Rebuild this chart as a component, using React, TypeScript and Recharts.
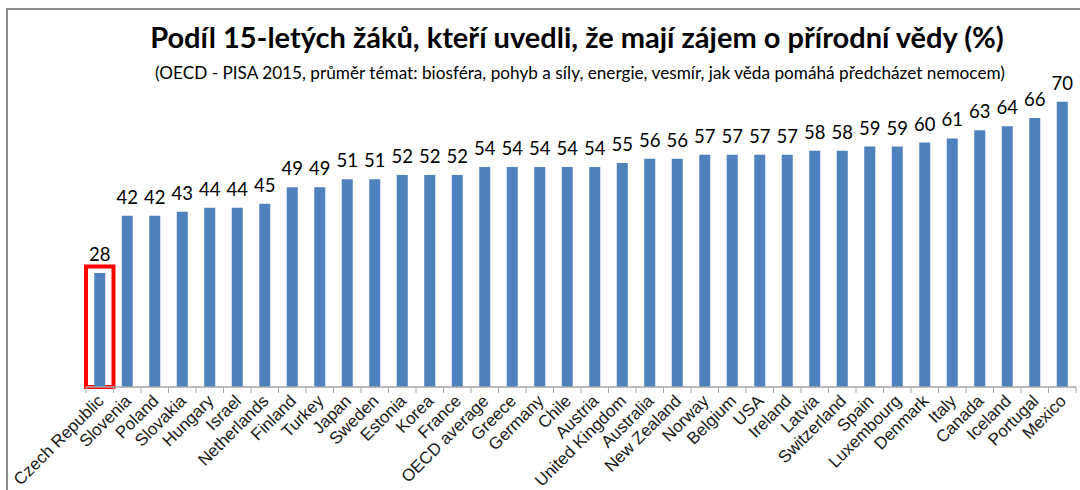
import React from "react";
import { BarChart, Bar, XAxis, YAxis, LabelList, ReferenceArea } from "recharts";

const countries = [
  "Czech Republic", "Slovenia", "Poland", "Slovakia", "Hungary", "Israel", "Netherlands",
  "Finland", "Turkey", "Japan", "Sweden", "Estonia", "Korea", "France", "OECD average",
  "Greece", "Germany", "Chile", "Austria", "United Kingdom", "Australia", "New Zealand",
  "Norway", "Belgium", "USA", "Ireland", "Latvia", "Switzerland", "Spain", "Luxembourg",
  "Denmark", "Italy", "Canada", "Iceland", "Portugal", "Mexico",
];
const values = [
  28, 42, 42, 43, 44, 44, 45, 49, 49, 51, 51, 52, 52, 52, 54, 54, 54, 54, 54, 55, 56, 56,
  57, 57, 57, 57, 58, 58, 59, 59, 60, 61, 63, 64, 66, 70,
];
const highlighted = "Czech Republic";
const yDomain = [0, 80];
const highlightTop = 29.6;

const title = "Podíl 15-letých žáků, kteří uvedli, že mají zájem o přírodní vědy (%)";
const subtitle =
  "(OECD - PISA 2015, průměr témat: biosféra, pohyb a síly, energie, vesmír, jak věda pomáhá předcházet nemocem)";

const data = countries.map((c, i) => ({ name: c, value: values[i] }));

const CalibriLike = "Lato, 'Noto Sans', sans-serif";

const Tick = (props: any) => {
  const { x, y, payload } = props;
  const off = payload && payload.offset ? payload.offset : 0;
  const axisY = y - 8;
  const isLast = payload.index === countries.length - 1;
  return (
    <g>
      <line x1={x - off} x2={x - off} y1={axisY} y2={axisY + 6} stroke="#a6a6a6" strokeWidth={1} />
      {isLast && (
        <line x1={x + off} x2={x + off} y1={axisY} y2={axisY + 6} stroke="#a6a6a6" strokeWidth={1} />
      )}
      <text
        x={x + 5}
        y={y + 7}
        textAnchor="end"
        transform={`rotate(-45, ${x + 5}, ${y + 7})`}
        fontFamily="'Liberation Sans', Arial, sans-serif"
        fontSize={17}
        fill="#1a1a1a"
      >
        {payload.value}
      </text>
    </g>
  );
};

export default function App() {
  return (
    <div style={{ position: "absolute", left: 0, top: 0, width: 1080, height: 490, background: "#fff", overflow: "hidden" }}>
      <div
        style={{
          position: "absolute",
          left: 6,
          top: 8,
          width: 1100,
          height: 500,
          borderTop: "2px solid #8c8c8c",
          borderLeft: "2px solid #8c8c8c",
        }}
      />
      <div
        style={{
          position: "absolute",
          left: 0,
          width: 1154,
          top: 19,
          textAlign: "center",
          fontFamily: CalibriLike,
          fontWeight: 700,
          fontSize: 29,
          color: "#000",
          whiteSpace: "nowrap",
        }}
      >
        {title}
      </div>
      <div
        style={{
          position: "absolute",
          left: 0,
          width: 1160,
          top: 62,
          textAlign: "center",
          fontFamily: CalibriLike,
          fontSize: 17.2,
          color: "#000",
          whiteSpace: "nowrap",
        }}
      >
        {subtitle}
      </div>
      <div style={{ position: "absolute", left: 0, top: 0 }}>
        <BarChart
          width={1080}
          height={490}
          data={data}
          margin={{ top: 61, right: 4, bottom: 0, left: 86 }}
          barCategoryGap="30%"
        >
          <XAxis
            dataKey="name"
            interval={0}
            height={103}
            tickSize={6}
            tickMargin={2}
            tickLine={false}
            axisLine={{ stroke: "#a6a6a6", strokeWidth: 1.5 }}
            tick={<Tick />}
          />
          <YAxis hide domain={yDomain} />
          <Bar dataKey="value" fill="#4f81bd" isAnimationActive={false}>
            <LabelList
              dataKey="value"
              position="top"
              offset={12}
              fill="#000"
              fontSize={18.5}
              fontFamily={CalibriLike}
            />
          </Bar>
          <ReferenceArea
            x1={highlighted}
            x2={highlighted}
            y1={0}
            y2={highlightTop}
            fill="none"
            fillOpacity={0}
            stroke="#ff0000"
            strokeWidth={4}
            ifOverflow="visible"
          />
        </BarChart>
      </div>
    </div>
  );
}
